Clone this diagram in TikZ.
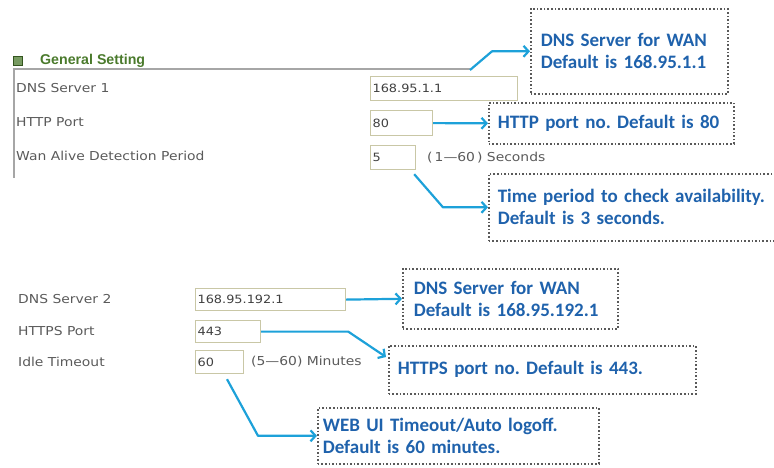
\documentclass[tikz,border=0pt]{standalone}
\usepackage{fontspec}
\newfontfamily\uifont[FakeStretch=1.13]{DejaVu Sans}
\newfontfamily\headfont{Liberation Sans}
\newfontfamily\notefont{Carlito}
\newcommand\notespacing{\frenchspacing\spaceskip 3.2pt\relax}
\usetikzlibrary{calc, positioning, arrows.meta}
\definecolor{notetext}{HTML}{1F62AC}
\definecolor{callblue}{HTML}{1DA1D9}
\definecolor{labgray}{HTML}{5A5A5A}
\definecolor{boxedge}{HTML}{C9C7A6}
\definecolor{headgreen}{HTML}{4A7A2C}

\begin{document}
\begin{tikzpicture}[x=1pt, y=-1pt, font=\uifont\fontsize{12.3}{14}\selectfont,
	lab/.style={anchor=west, text=labgray, inner sep=0pt},
	inbox/.style={draw=boxedge, line width=1.2pt, fill=white, anchor=north west, inner xsep=2pt, inner ysep=0pt,
		text=black!75, font=\uifont\fontsize{11.4}{13}\selectfont},
	note/.style={draw=black!65, line width=1.6pt, dotted, anchor=north west, inner ysep=0pt,
		text=notetext, font=\notefont\bfseries\fontsize{19}{22}\selectfont\notespacing, align=left},
	call/.style={draw=callblue, line width=2.2pt, -{Straight Barb[length=5pt, width=11pt]}, line join=round}]
	\useasboundingbox (0,0) rectangle (774,467);
	% general setting panel
	\node[draw=headgreen!70!black, fill=headgreen!75, minimum size=9pt, inner sep=0pt] (icon) at (18,61) {};
	\node[anchor=west, inner sep=0pt, text=headgreen, font=\headfont\bfseries\fontsize{14.2}{16}\selectfont] (head) at (40,61) {General Setting};
	\draw[black!35, line width=1.5pt] (14,178) -- (14,69) -- (470,69);
	\foreach \t/\y [count=\i] in {DNS Server 1/88, HTTP Port/122, Wan Alive Detection Period/156} {
		\node[lab] (labA\i) at (16,\y) {\t};
	};
	\node[inbox, text width=143pt, minimum height=24pt] (dnsA) at (370,76) {168.95.1.1};
	\node[inbox, text width=58pt, minimum height=25pt] (httpbox) at (370,110) {80};
	\node[inbox, text width=41pt, minimum height=24pt] (waitbox) at (370,145) {5};
	\node[lab] (secs) at (427,158) {(\,1—60\,)\ Seconds};
	% second group
	\foreach \t/\y [count=\i] in {DNS Server 2/299, HTTPS Port/331, Idle Timeout/362} {
		\node[lab] (labB\i) at (18,\y) {\t};
	};
	\node[inbox, text width=146pt, minimum height=22pt] (dnsB) at (195,288) {168.95.192.1};
	\node[inbox, text width=61pt, minimum height=22pt] (httpsbox) at (195,320) {443};
	\node[inbox, text width=44pt, minimum height=23pt] (idlebox) at (195,350) {60};
	\node[lab] (mins) at (251,362) {(5—60) Minutes};
	% callouts
	\node[note, inner xsep=10pt, text width=177pt, minimum height=85pt] (note1) at (530,8)
		{DNS Server for WAN\\Default is 168.95.1.1};
	\node[note, inner xsep=9pt, text width=227pt, minimum height=41pt] (note2) at (488,102)
		{HTTP port no. Default is 80};
	\node[note, inner xsep=9pt, text width=272pt, minimum height=67pt] (note3) at (488,173)
		{Time period to check availability.\\Default is 3 seconds.};
	\node[note, inner xsep=11pt, text width=193pt, minimum height=60pt] (note4) at (402,268)
		{DNS Server for WAN\\Default is 168.95.192.1};
	\node[note, inner xsep=9pt, text width=289pt, minimum height=48pt] (note5) at (388,345)
		{HTTPS port no. Default is 443.};
	\node[note, inner xsep=5pt, text width=271pt, minimum height=56pt] (note6) at (317,407)
		{WEB UI Timeout/Auto logoff.\\Default is 60 minutes.};
	% arrows
	\draw[call] ($(dnsA.north west)+(100,-6)$) -- ($(note1.west)+(-38,0)$) -- (note1.west);
	\draw[call] (httpbox.east) -- (note2.west);
	\draw[call] ($(waitbox.south east)+(-2,4)$) -- ($(note3.west)+(-45,0)$) -- (note3.west);
	\draw[call] (dnsB.east) -- (note4.west);
	\draw[call] (httpsbox.east) -- ($(httpsbox.east)+(87,0)$) -- ($(note5.north west)+(-2,12)$);
	\draw[call] ($(idlebox.south west)+(32,5)$) -- ($(note6.west)+(-59,0)$) -- (note6.west);
\end{tikzpicture}
\end{document}
